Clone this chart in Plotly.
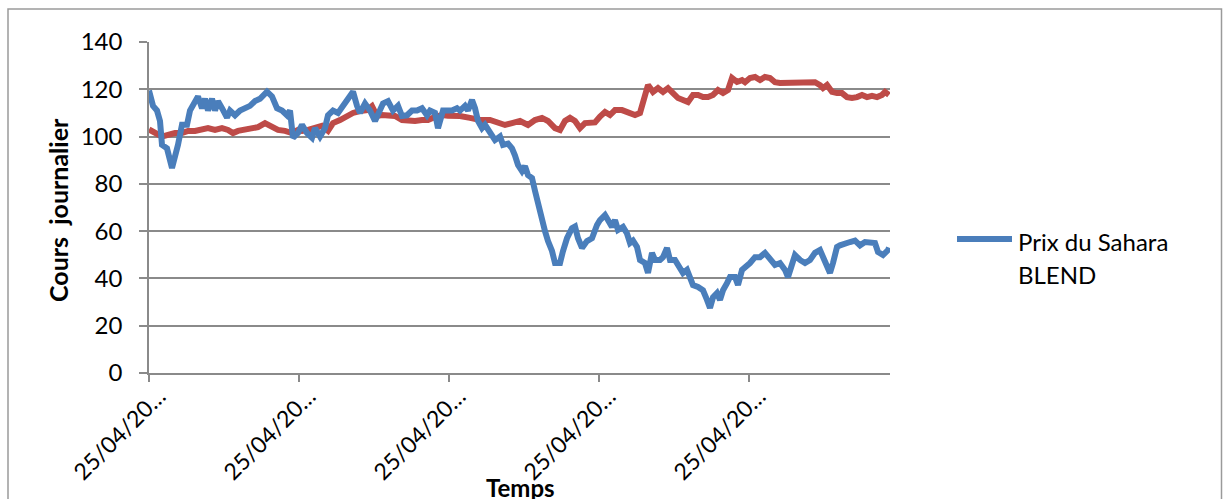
import plotly.graph_objects as go

# Trading-day index of each reading and the daily price (USD/bbl)
sahara_days = [0, 8, 16, 22, 26, 36, 46, 52, 58, 66, 76, 82, 92, 98, 106, 112, 118, 126, 132, 138,
               146, 156, 162, 172, 182, 192, 202, 212, 222, 236, 246, 256, 266, 276, 282, 288, 298,
               306, 316, 326, 332, 342, 352, 358, 368, 378, 388, 398, 408, 416, 422, 432, 442, 452,
               462, 468, 478, 488, 498, 506, 516, 526, 536, 546, 556, 562, 572, 578, 588, 598, 606,
               616, 622, 632, 638, 646, 652, 658, 666, 672, 682, 692, 702, 708, 718, 726, 732, 738,
               746, 752, 758, 766, 772, 778, 786, 792, 798, 806, 812, 822, 828, 836, 846, 852, 858,
               866, 876, 886, 896, 902, 912, 918, 926, 932, 938, 948, 956, 962, 968, 976, 982, 992,
               998, 1006, 1012, 1022, 1028, 1036, 1042, 1052, 1062, 1068, 1076, 1082, 1088, 1098,
               1108, 1116, 1122, 1128, 1136, 1142, 1148, 1156, 1162, 1172, 1178, 1186, 1196, 1202,
               1212, 1222, 1232, 1242, 1252, 1262, 1272, 1278, 1286, 1292, 1302, 1312, 1322, 1332,
               1342, 1352, 1362, 1368, 1376, 1382, 1392, 1402, 1412, 1422, 1432, 1442, 1452, 1458,
               1468, 1478, 1480]
sahara_price = [119.5, 113, 111, 106.6, 96.5, 95, 86.7, 91, 96.5, 105, 105, 111, 115.5, 117, 112, 116,
                111, 116, 111, 115, 112, 108, 111, 109, 111, 112, 113, 115, 116, 119, 117, 112, 111,
                109, 111, 99.5, 101.5, 105, 101.5, 99.5, 103.6, 100, 103.6, 109, 111, 110, 113, 115,
                119, 113, 110, 114, 111, 106.6, 111, 114, 115, 111, 113, 108.7, 109, 111, 111, 112,
                109, 111, 110, 103.6, 111, 111, 111, 112, 111, 113, 111, 115.5, 112, 106.6, 103.6,
                105, 102, 98.5, 100, 96.5, 97, 95, 92, 88, 85.4, 87.5, 83.7, 82.5, 77, 71, 65.6, 60,
                55.8, 51.6, 46.5, 46.5, 51.6, 57, 61.3, 62, 57, 52.9, 55.8, 57, 62.6, 64.7, 66.8,
                64.7, 61.8, 64.7, 60.5, 61.8, 59, 55, 56, 53.3, 47.8, 46.5, 42.3, 50.8, 47.8, 47.8,
                49, 52.9, 47.8, 47.8, 44.8, 42.3, 43.6, 40, 37.2, 36.4, 35, 30.9, 27.5, 32, 33.8,
                30.9, 35, 38, 40.6, 40.6, 37.2, 43.6, 45, 46.5, 49, 49, 50.8, 47.8, 45.7, 46.5, 43.6,
                40.6, 46.5, 49.9, 47.8, 46.5, 47.8, 50.8, 52, 47.8, 42.3, 46.5, 53.3, 54, 55, 55.4,
                56, 54, 55.4, 55.4, 55, 51.2, 49.9, 52, 53]

second_days = [0, 12, 26, 38, 52, 66, 78, 92, 106, 118, 132, 146, 158, 168, 178, 192, 206, 218, 232,
               246, 258, 272, 286, 298, 306, 318, 332, 346, 358, 368, 382, 396, 408, 422, 436, 446,
               456, 466, 478, 492, 506, 518, 532, 546, 558, 572, 586, 598, 622, 642, 662, 682, 696,
               712, 726, 742, 758, 772, 786, 798, 812, 822, 832, 842, 852, 862, 872, 882, 892, 902,
               912, 922, 932, 946, 958, 972, 982, 992, 998, 1008, 1018, 1028, 1038, 1048, 1058, 1068,
               1078, 1088, 1098, 1108, 1118, 1128, 1138, 1148, 1158, 1166, 1176, 1186, 1192, 1202,
               1212, 1222, 1232, 1242, 1252, 1262, 1272, 1282, 1292, 1302, 1312, 1322, 1332, 1342,
               1348, 1356, 1366, 1376, 1386, 1396, 1406, 1416, 1426, 1436, 1446, 1456, 1466, 1472,
               1480]
second_price = [103, 101.5, 100, 100.7, 101.5, 101.5, 102.4, 102.4, 102.8, 103.6, 102.8, 103.6, 102.8,
                101.5, 102.4, 102.8, 103.6, 104, 105.7, 104.5, 102.8, 102.4, 101.5, 102.8, 102.4,
                102.8, 103.6, 104.5, 102.4, 105.7, 107, 108.7, 110, 110.8, 111.2, 112.9, 108.7,
                109.1, 109.1, 108.7, 107, 106.6, 106.6, 107, 107, 108.3, 109.1, 108.8, 108.7, 107.9,
                107, 107, 105.7, 104.9, 105.7, 106.6, 104.9, 107, 107.9, 106.6, 103.6, 102.8, 106.6,
                107.9, 106.6, 103.6, 105.7, 105.7, 106, 108.5, 110.4, 109.1, 111.2, 111.2, 110.4,
                109.1, 110, 118.4, 121.8, 118.9, 120.5, 118.9, 120.5, 118.4, 116.3, 115.5, 114.6,
                117.6, 117.6, 116.7, 116.7, 117.6, 119.7, 118.4, 119.7, 124.8, 123.1, 123.9, 123,
                124.8, 125.2, 123.9, 125.2, 124.8, 123, 122.7, 122.7, 123, 123, 122.7, 123, 122.7,
                123, 121.8, 120.5, 121.8, 118.9, 118.4, 118.4, 116.7, 116.3, 116.7, 117.6, 116.7,
                117.2, 116.7, 117.6, 118.9, 117.6]

tick_days = [0, 300, 600, 900, 1200]
tick_labels = ["25/04/20…"] * 5
y_ticks = [0, 20, 40, 60, 80, 100, 120, 140]

legend_name = "Prix du Sahara BLEND"

BLUE = "#4A7EBB"
RED = "#BE4B48"
GRID = "#8A8A8A"
FONT = "Lato"

# plot area in pixels
W, H = 1223, 499
L, R, T, B = 149, 890, 42, 373


def px(xp):
    return (xp - L) / (R - L)


def py(yp):
    return (B - yp) / (B - T)


fig = go.Figure()
fig.add_trace(go.Scatter(x=second_days, y=second_price, mode="lines",
                         line=dict(color=RED, width=6), showlegend=False,
                         name="Brent"))
fig.add_trace(go.Scatter(x=sahara_days, y=sahara_price, mode="lines",
                         line=dict(color=BLUE, width=6), showlegend=False,
                         name=legend_name))

fig.update_layout(
    width=W, height=H,
    margin=dict(l=L, r=W - R, t=T, b=H - B, autoexpand=False),
    paper_bgcolor="white", plot_bgcolor="white",
    font=dict(family=FONT, size=23, color="black"),
    showlegend=False,
)

fig.update_xaxes(
    range=[0, 1482], tickmode="array", tickvals=tick_days, ticktext=tick_labels,
    tickangle=-45, ticks="outside", ticklen=7, tickwidth=1.5, tickcolor=GRID,
    showline=True, linecolor=GRID, linewidth=1.5, showgrid=False, zeroline=False,
    tickfont=dict(size=23), ticklabelshift=10, ticklabelstandoff=-8,
)
fig.update_yaxes(
    range=[0, 140], tickmode="array", tickvals=y_ticks, ticks="outside",
    ticklen=8, tickwidth=1.5, tickcolor=GRID, showline=True, linecolor=GRID,
    linewidth=1.5, showgrid=True, gridcolor=GRID, gridwidth=1.5, zeroline=False,
    tickfont=dict(size=24), ticklabelstandoff=12,
)

# chart frame
fig.add_shape(type="rect", xref="paper", yref="paper",
              x0=px(8), x1=px(1221.5), y0=py(520), y1=py(9),
              line=dict(color="#9A9A9A", width=1.5), layer="below")

# axis titles
fig.add_annotation(xref="paper", yref="paper", x=px(58), y=py(210),
                   xanchor="center", yanchor="middle",
                   text="<b>Cours\u00a0 journalier</b>", textangle=-90,
                   showarrow=False, font=dict(size=25))
fig.add_annotation(xref="paper", yref="paper", x=px(520), y=py(487),
                   xanchor="center", yanchor="middle",
                   text="<b>Temps</b>", showarrow=False, font=dict(size=24))

# legend entry
fig.add_shape(type="line", xref="paper", yref="paper",
              x0=px(957), x1=px(1012), y0=py(239), y1=py(239),
              line=dict(color=BLUE, width=6))
fig.add_annotation(xref="paper", yref="paper", x=px(1016), y=py(241),
                   xanchor="left", yanchor="middle",
                   text="Prix du Sahara", showarrow=False, font=dict(size=24))
fig.add_annotation(xref="paper", yref="paper", x=px(1016), y=py(274),
                   xanchor="left", yanchor="middle",
                   text="BLEND", showarrow=False, font=dict(size=24))

fig.write_html("out.html")
